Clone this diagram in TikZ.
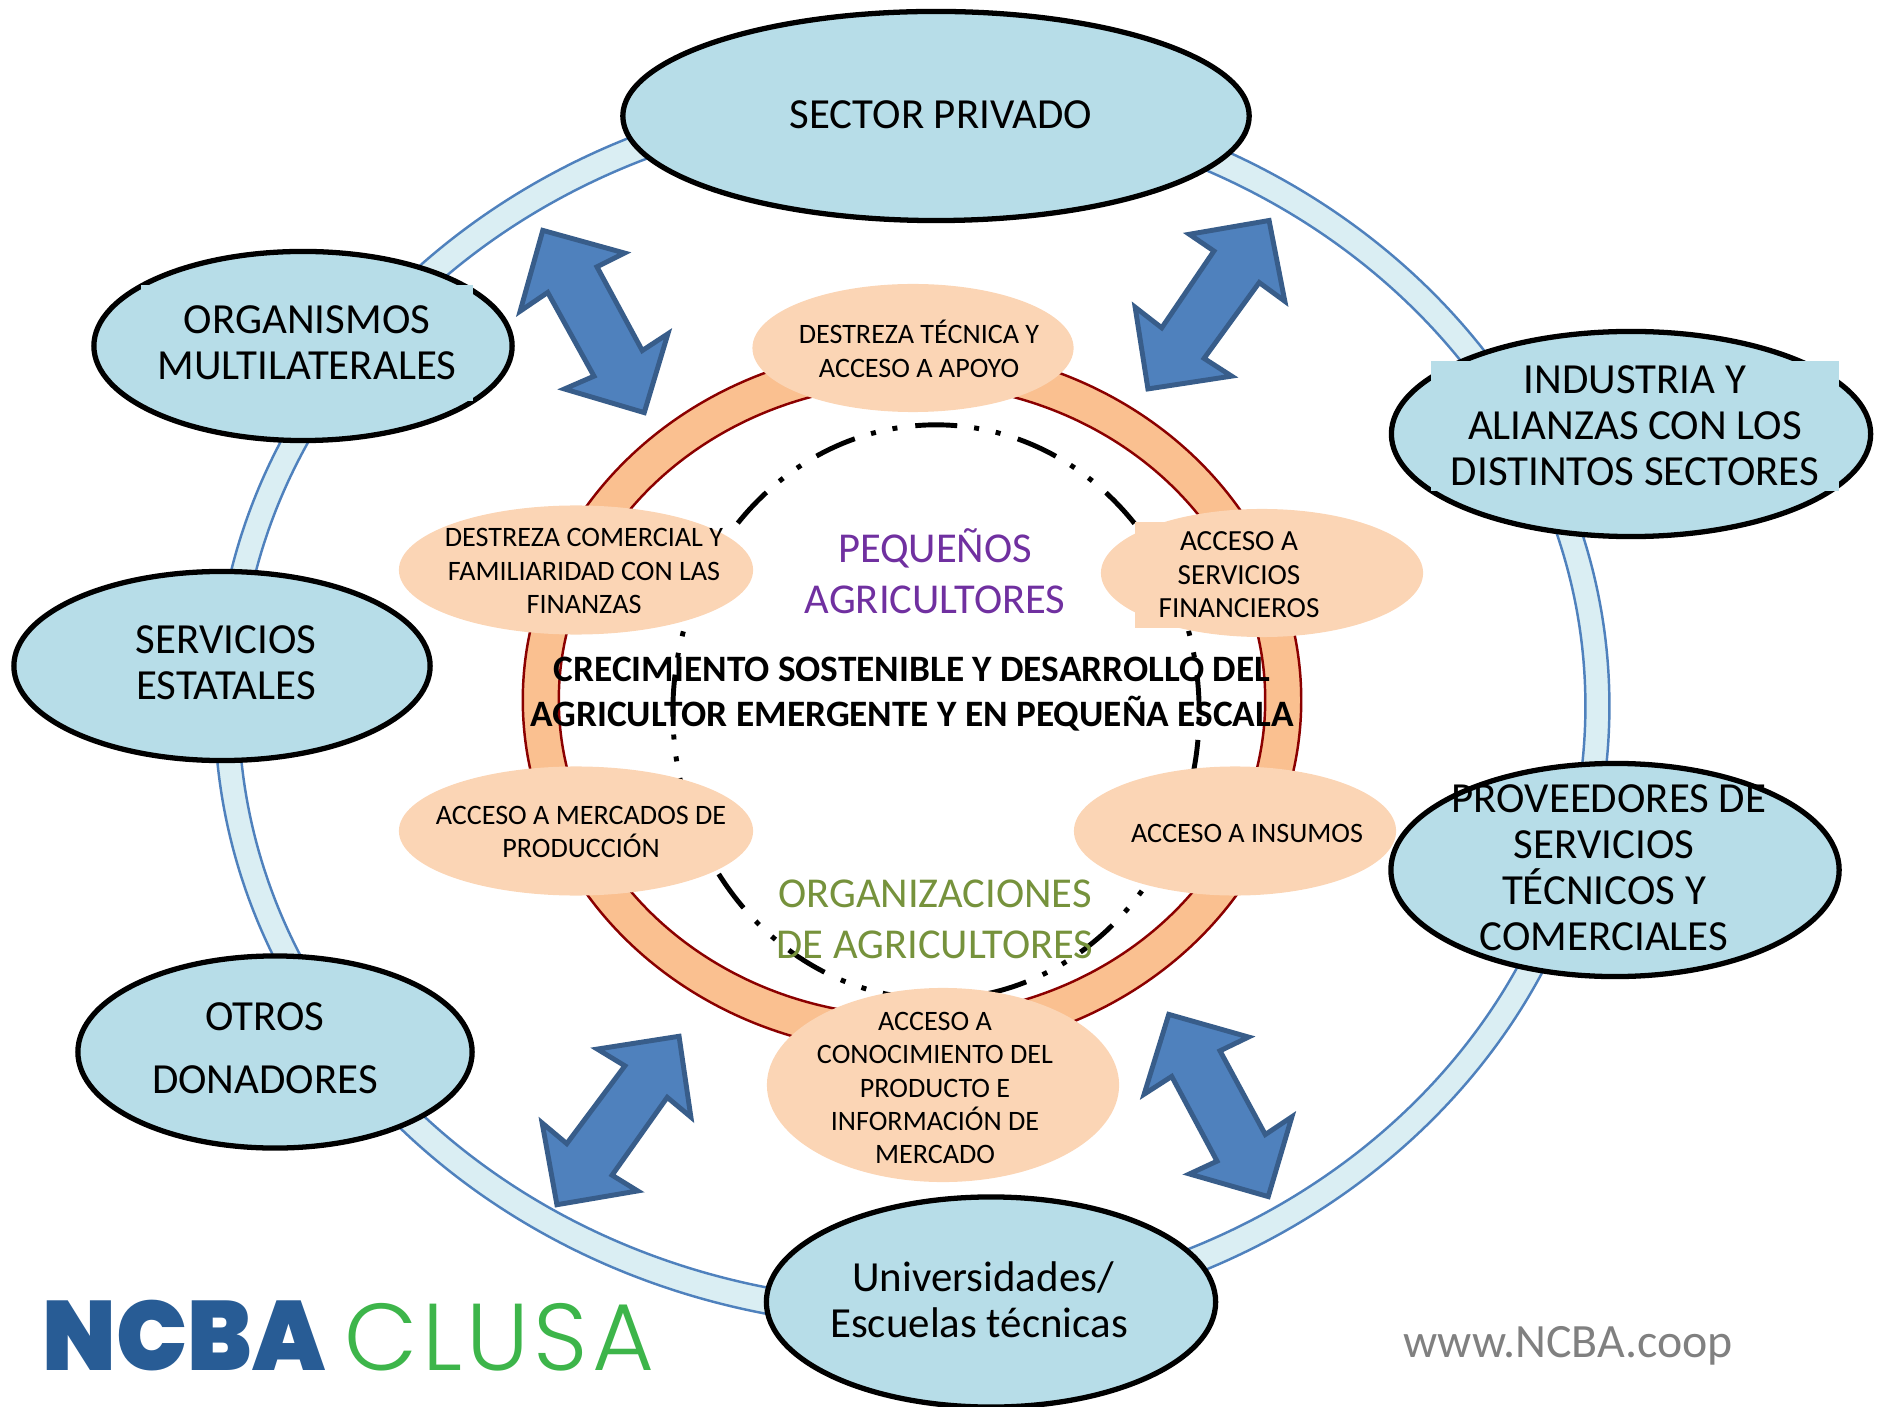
\documentclass[tikz,border=0pt]{standalone}
\usepackage{fontspec}
\setmainfont{Carlito}
\newfontfamily\ncbafont{Poppins Black}
\newfontfamily\clusafont[LetterSpace=4.5]{Poppins Light}
\usetikzlibrary{shapes}
\definecolor{skyfill}{HTML}{B7DDE8}
\definecolor{ringfill}{HTML}{DAEEF3}
\definecolor{ringline}{HTML}{4F81BD}
\definecolor{orangering}{HTML}{FAC090}
\definecolor{peach}{HTML}{FBD5B5}
\definecolor{darkred}{HTML}{8B0000}
\definecolor{arrowline}{HTML}{385D8A}
\definecolor{purpletxt}{HTML}{7030A0}
\definecolor{olivetxt}{HTML}{76923C}
\definecolor{ncbablue}{HTML}{285C95}
\definecolor{clusagreen}{HTML}{3DB54A}
\tikzset{
  actor/.style={draw=black,line width=1.5pt,ellipse,fill=skyfill,inner sep=0},
  access/.style={ellipse,fill=peach,inner sep=0},
  bigtxt/.style={align=center,inner sep=0,font=\fontsize{12.2}{13.05}\selectfont},
  smalltxt/.style={align=center,inner sep=0,font=\fontsize{8}{9.5}\selectfont},
  midtxt/.style={align=center,inner sep=0,font=\fontsize{12.1}{14.45}\selectfont},
  blockarrow/.style={draw=arrowline,line width=1.4pt,fill=ringline,line join=miter},
}
\begin{document}
\begin{tikzpicture}[x=.01cm,y=-.01cm]
\useasboundingbox (0,0) rectangle (1877,1407);

% outer and inner rings
\draw[draw=ringline,line width=.7pt,fill=ringfill,even odd rule]
	(912,706) ellipse (6.97cm and 6.21cm) (912,706) ellipse (6.73cm and 5.95cm);
\draw[draw=darkred,line width=.7pt,fill=orangering,even odd rule]
	(912,700) ellipse (3.89cm and 3.53cm) (912,700) ellipse (3.53cm and 3.16cm);
\draw[line width=1.4pt,dash pattern=on .42cm off .18cm on .05cm off .17cm on .05cm off .17cm,dash phase=.05cm]
	(936,712) ellipse (2.63cm and 2.87cm);

% big ellipses
\node[actor,minimum width=6.26cm,minimum height=2.09cm] (sector) at (936,116) {};
\node[actor,minimum width=4.18cm,minimum height=1.89cm] (organismos) at (303,346) {};
\node[actor,minimum width=4.79cm,minimum height=2.05cm] (industria) at (1631,434) {};
\node[actor,minimum width=4.16cm,minimum height=1.89cm] (servicios) at (222,666) {};
\node[actor,minimum width=4.48cm,minimum height=2.13cm] (proveedores) at (1615,870) {};
\node[actor,minimum width=3.94cm,minimum height=1.92cm] (otros) at (275,1052) {};
\node[actor,minimum width=4.49cm,minimum height=2.1cm] (univ) at (991,1302) {};

% small ellipses
\node[access,minimum width=3.21cm,minimum height=1.28cm] (tecnica) at (913,348) {};
\node[access,minimum width=3.54cm,minimum height=1.29cm] (comercial) at (576,570) {};
\node[access,minimum width=3.22cm,minimum height=1.28cm] (finanzas) at (1262,573) {};
\node[access,minimum width=3.54cm,minimum height=1.29cm] (mercados) at (576,831) {};
\node[access,minimum width=3.22cm,minimum height=1.29cm] (insumos) at (1235,831) {};
\node[access,minimum width=3.52cm,minimum height=1.94cm] (conocimiento) at (943,1085) {};

% block arrows
\draw[blockarrow,scale around={.985:(594,322)}] (542,229) -- (625,252) -- (597,266) -- (643,351) -- (669,334) -- (645,414)
	-- (564,390) -- (594,377) -- (547,292) -- (519,311) -- cycle;
\draw[blockarrow,scale around={.985:(1208,319)}] (1270,219) -- (1189,233) -- (1214,250) -- (1161,328) -- (1134,307) -- (1147,390)
	-- (1232,377) -- (1204,359) -- (1260,282) -- (1286,301) -- cycle;
\draw[blockarrow,scale around={.985:(617,1120)}] (680,1035) -- (597,1048) -- (625,1065) -- (566,1144) -- (541,1123) -- (556,1206)
	-- (638,1192) -- (612,1176) -- (668,1097) -- (692,1117) -- cycle;
\draw[blockarrow,scale around={.985:(1218,1105)}] (1168,1013) -- (1249,1036) -- (1220,1050) -- (1266,1135) -- (1293,1117) -- (1269,1198)
	-- (1189,1175) -- (1217,1162) -- (1171,1076) -- (1143,1094) -- cycle;

% texts
\node[bigtxt] (sector-t) at (941,115) {SECTOR PRIVADO};
\node[bigtxt,fill=skyfill,minimum width=3.31cm,minimum height=1.15cm] (organismos-t) at (307,343) {ORGANISMOS\\MULTILATERALES};
\node[bigtxt,fill=skyfill,minimum width=4.07cm,minimum height=1.29cm] (industria-t) at (1635,426) {INDUSTRIA Y\\ALIANZAS CON LOS\\DISTINTOS SECTORES};
\node[bigtxt] (servicios-t) at (226,663) {SERVICIOS\\ESTATALES};
\node[bigtxt] (proveedores-t) at (1604,868) {\hspace*{.1cm}PROVEEDORES DE\\SERVICIOS\\TÉCNICOS Y\\COMERCIALES};
\node[bigtxt,font=\fontsize{12.2}{18}\selectfont] (otros-t) at (265,1048) {OTROS\\DONADORES};
\node[bigtxt] (univ-t) at (979,1300) {\hspace*{.08cm}Universidades/\\Escuelas técnicas};

\node[smalltxt] (tecnica-t) at (919,349) {DESTREZA TÉCNICA Y\\ACCESO A APOYO};
\node[smalltxt] (comercial-t) at (584,571) {DESTREZA COMERCIAL Y\\FAMILIARIDAD CON LAS\\FINANZAS};
\node[smalltxt,fill=peach,minimum width=2.08cm,minimum height=1.05cm,font=\fontsize{8.3}{9.5}\selectfont] (finanzas-t) at (1239,575) {ACCESO A\\SERVICIOS\\FINANCIEROS};
\node[smalltxt] (mercados-t) at (581,832) {ACCESO A MERCADOS DE\\PRODUCCIÓN};
\node[smalltxt] (insumos-t) at (1247,833) {ACCESO A INSUMOS};
\node[smalltxt] (conocimiento-t) at (935,1088) {ACCESO A\\CONOCIMIENTO DEL\\PRODUCTO E\\INFORMACIÓN DE\\MERCADO};

\node[midtxt,text=purpletxt] (pequenos) at (935,571) {PEQUEÑOS\\AGRICULTORES};
\node[midtxt,text=olivetxt] (organizaciones) at (935,919) {ORGANIZACIONES\\DE AGRICULTORES};
\node[align=center,inner sep=0,font=\fontsize{10.6}{12.8}\selectfont\bfseries] (crecimiento) at (912,694)
	{CRECIMIENTO SOSTENIBLE Y DESARROLLO DEL\\AGRICULTOR EMERGENTE Y EN PEQUEÑA ESCALA};

% logo and web address
\node[inner sep=0,anchor=base west,text=ncbablue,font=\fontsize{28}{28}\ncbafont] (ncba) at (42,1370) {\scalebox{.96}[1]{NCBA}};
\node[inner sep=0,anchor=base west,text=clusagreen,font=\fontsize{27}{27}\clusafont] (clusa) at (344,1370) {CLUSA};
\node[inner sep=0,text=gray,font=\fontsize{13.6}{15}\selectfont] (web) at (1568,1346) {www.NCBA.coop};
\end{tikzpicture}
\end{document}
